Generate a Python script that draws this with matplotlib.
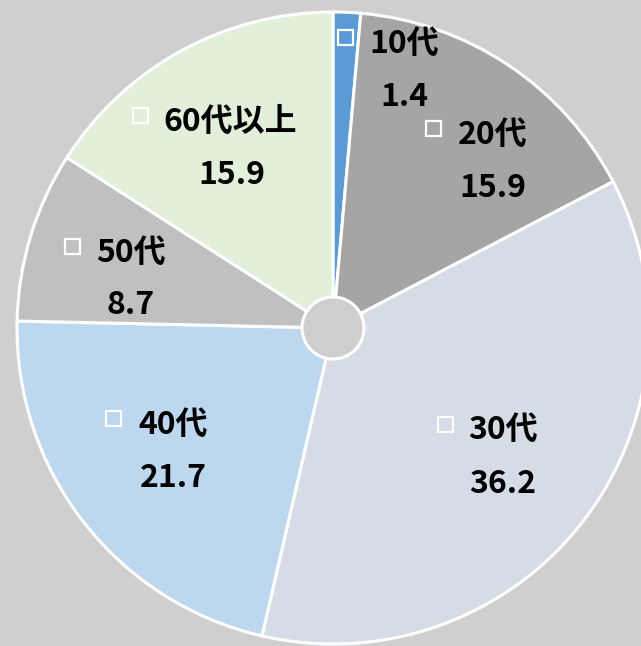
import matplotlib
matplotlib.use("Agg")
import matplotlib.pyplot as plt
from matplotlib.patches import Circle, Rectangle

plt.rcParams['font.family'] = ['Noto Sans CJK JP', 'DejaVu Sans']

categories = ['10代', '20代', '30代', '40代', '50代', '60代以上']
values = [1.4, 15.9, 36.2, 21.7, 8.7, 15.9]
value_labels = ['1.4', '15.9', '36.2', '21.7', '8.7', '15.9']
colors = ['#5b9bd5', '#a5a5a5', '#d6dce5', '#bdd7ee', '#c0c0c0', '#e2efda']
bg = '#d0cece'

W, H = 641, 646
fig = plt.figure(figsize=(W / 100, H / 100), dpi=100, facecolor=bg)
ax = fig.add_axes([0, 0, 1, 1])

cx, cy, r = 333, H - 328, 316
ax.pie(values, colors=colors, startangle=90, counterclock=False,
       center=(cx, cy), radius=r, frame=True,
       wedgeprops=dict(edgecolor='white', linewidth=2.2))
ax.set_xlim(0, W)
ax.set_ylim(0, H)
ax.set_aspect('equal')
ax.axis('off')

ax.add_patch(Circle((cx, cy), 31, facecolor=bg, edgecolor='white', linewidth=2.2, zorder=5))

# label layout (square pos, text center), in pixel coords from top
label_pos = [
    ((345, 37), (404, 44), (404, 97)),
    ((433, 128), (493, 135), (493, 188)),
    ((445, 424), (503, 430), (503, 484)),
    ((113, 418), (173, 425), (173, 478)),
    ((72, 246), (131, 253), (131, 305)),
    ((140, 115), (230, 122), (232, 175)),
]
for cat, vl, col, (sq, tp, vp) in zip(categories, value_labels, colors, label_pos):
    s = 15
    ax.add_patch(Rectangle((sq[0] - s / 2, H - sq[1] - s / 2), s, s,
                           facecolor=col, edgecolor='white', linewidth=1.6, zorder=6))
    ax.text(tp[0], H - tp[1], cat, ha='center', va='center', fontsize=23,
            fontweight='bold', color='black', zorder=7)
    ax.text(vp[0], H - vp[1], vl, ha='center', va='center', fontsize=23,
            fontweight='bold', color='black', zorder=7)

fig.savefig('out.png', dpi=100, facecolor=bg)
